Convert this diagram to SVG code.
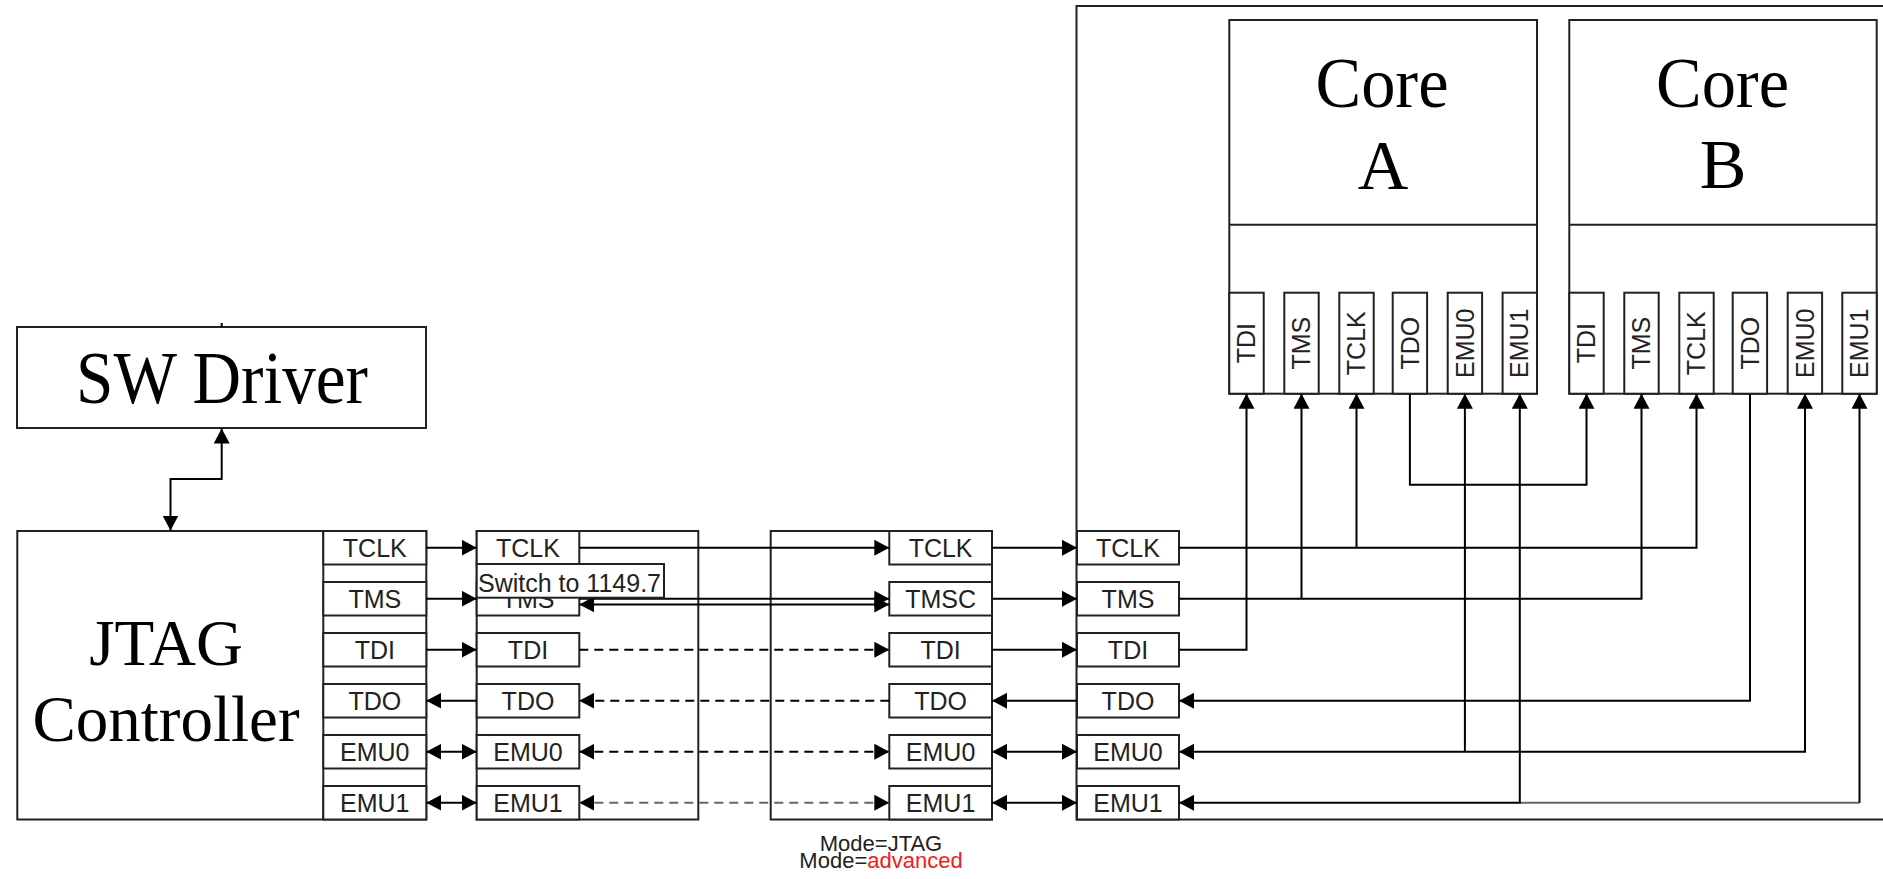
<svg xmlns="http://www.w3.org/2000/svg" width="1883" height="879" viewBox="0 0 1883 879">
<style>
.box{fill:#fff;stroke:#222;stroke-width:2}
.ln{fill:none;stroke:#222;stroke-width:2}
.pt{font-family:"Liberation Sans",Arial,sans-serif;font-size:25px;fill:#222;text-anchor:middle}
.sf{font-family:"Liberation Serif","Times New Roman",serif;fill:#000}
.w{fill:none;stroke:#000;stroke-width:2}
.d{stroke-dasharray:9 6}
.g{stroke:#666}
.md{font-family:"Liberation Sans",Arial,sans-serif;font-size:22px;fill:#222;text-anchor:middle}
</style>
<defs>
<marker id="ah" markerUnits="userSpaceOnUse" markerWidth="16" markerHeight="16" refX="15" refY="8" orient="auto-start-reverse"><path d="M0,0 L15,8 L0,16 z" fill="#000"/></marker>
</defs>
<rect width="1883" height="879" fill="#fff"/>

<g id="sw-driver">
<rect class="box" x="17" y="327" width="409" height="101"/>
<text class="sf" x="76" y="403" font-size="73" textLength="292" lengthAdjust="spacingAndGlyphs">SW Driver</text>
</g>

<g id="jtag-controller">
<rect class="box" x="17.3" y="531" width="409" height="288.5"/>
<line class="ln" x1="323.3" y1="531" x2="323.3" y2="819.5"/>
<text class="sf" x="166" y="665" font-size="65" text-anchor="middle">JTAG</text>
<text class="sf" x="166" y="741" font-size="65" text-anchor="middle">Controller</text>
<rect class="box" x="323.3" y="531" width="103" height="33.5"/><text class="pt" x="374.8" y="557">TCLK</text>
<rect class="box" x="323.3" y="582" width="103" height="33.5"/><text class="pt" x="374.8" y="608">TMS</text>
<rect class="box" x="323.3" y="633" width="103" height="33.5"/><text class="pt" x="374.8" y="659">TDI</text>
<rect class="box" x="323.3" y="684" width="103" height="33.5"/><text class="pt" x="374.8" y="710">TDO</text>
<rect class="box" x="323.3" y="735" width="103" height="33.5"/><text class="pt" x="374.8" y="761">EMU0</text>
<rect class="box" x="323.3" y="786" width="103" height="33.5"/><text class="pt" x="374.8" y="812">EMU1</text>
</g>

<g id="adapter-1">
<rect class="box" x="476.7" y="531" width="221.6" height="288.5"/>
<rect class="box" x="476.7" y="531" width="102.6" height="33.5"/><text class="pt" x="528" y="557">TCLK</text>
<rect class="box" x="476.7" y="582" width="102.6" height="33.5"/><text class="pt" x="528" y="608">TMS</text>
<rect class="box" x="476.7" y="633" width="102.6" height="33.5"/><text class="pt" x="528" y="659">TDI</text>
<rect class="box" x="476.7" y="684" width="102.6" height="33.5"/><text class="pt" x="528" y="710">TDO</text>
<rect class="box" x="476.7" y="735" width="102.6" height="33.5"/><text class="pt" x="528" y="761">EMU0</text>
<rect class="box" x="476.7" y="786" width="102.6" height="33.5"/><text class="pt" x="528" y="812">EMU1</text>
</g>

<g id="adapter-2">
<rect class="box" x="770.7" y="531" width="221.3" height="288.5"/>
<rect class="box" x="889.3" y="531" width="102.7" height="33.5"/><text class="pt" x="940.6" y="557">TCLK</text>
<rect class="box" x="889.3" y="582" width="102.7" height="33.5"/><text class="pt" x="940.6" y="608">TMSC</text>
<rect class="box" x="889.3" y="633" width="102.7" height="33.5"/><text class="pt" x="940.6" y="659">TDI</text>
<rect class="box" x="889.3" y="684" width="102.7" height="33.5"/><text class="pt" x="940.6" y="710">TDO</text>
<rect class="box" x="889.3" y="735" width="102.7" height="33.5"/><text class="pt" x="940.6" y="761">EMU0</text>
<rect class="box" x="889.3" y="786" width="102.7" height="33.5"/><text class="pt" x="940.6" y="812">EMU1</text>
<text class="md" x="881" y="850.5">Mode=JTAG</text>
<text class="md" x="881" y="868.3">Mode=<tspan fill="#ee1c1c">advanced</tspan></text>
</g>

<g id="chip">
<rect class="box" x="1076.5" y="6" width="820" height="813.5"/>
<rect class="box" x="1077" y="531" width="102" height="33.5"/><text class="pt" x="1128" y="557">TCLK</text>
<rect class="box" x="1077" y="582" width="102" height="33.5"/><text class="pt" x="1128" y="608">TMS</text>
<rect class="box" x="1077" y="633" width="102" height="33.5"/><text class="pt" x="1128" y="659">TDI</text>
<rect class="box" x="1077" y="684" width="102" height="33.5"/><text class="pt" x="1128" y="710">TDO</text>
<rect class="box" x="1077" y="735" width="102" height="33.5"/><text class="pt" x="1128" y="761">EMU0</text>
<rect class="box" x="1077" y="786" width="102" height="33.5"/><text class="pt" x="1128" y="812">EMU1</text>
</g>

<g id="core-a">
<rect class="box" x="1229.3" y="20" width="307.7" height="373.7"/>
<line class="ln" x1="1229.3" y1="224.7" x2="1537" y2="224.7"/>
<text class="sf" x="1315.5" y="107.3" font-size="71" textLength="133" lengthAdjust="spacingAndGlyphs">Core</text>
<text class="sf" x="1383" y="189.3" font-size="70" text-anchor="middle">A</text>
<rect class="box" x="1229.3" y="292.7" width="34.4" height="101"/><text class="pt" transform="translate(1255.1,343.2) rotate(-90)">TDI</text>
<rect class="box" x="1284.3" y="292.7" width="34.4" height="101"/><text class="pt" transform="translate(1310.1,343.2) rotate(-90)">TMS</text>
<rect class="box" x="1339.3" y="292.7" width="34.4" height="101"/><text class="pt" transform="translate(1365.1,343.2) rotate(-90)">TCLK</text>
<rect class="box" x="1392.7" y="292.7" width="34.4" height="101"/><text class="pt" transform="translate(1418.5,343.2) rotate(-90)">TDO</text>
<rect class="box" x="1447.7" y="292.7" width="34.4" height="101"/><text class="pt" transform="translate(1473.5,343.2) rotate(-90)">EMU0</text>
<rect class="box" x="1502.6" y="292.7" width="34.4" height="101"/><text class="pt" transform="translate(1528.4,343.2) rotate(-90)">EMU1</text>
</g>

<g id="core-b">
<rect class="box" x="1569.3" y="20" width="307.4" height="373.7"/>
<line class="ln" x1="1569.3" y1="224.7" x2="1876.7" y2="224.7"/>
<text class="sf" x="1656" y="107.3" font-size="71" textLength="133" lengthAdjust="spacingAndGlyphs">Core</text>
<text class="sf" x="1723" y="188.3" font-size="70" text-anchor="middle">B</text>
<rect class="box" x="1569.3" y="292.7" width="34.4" height="101"/><text class="pt" transform="translate(1595.1,343.2) rotate(-90)">TDI</text>
<rect class="box" x="1624.3" y="292.7" width="34.4" height="101"/><text class="pt" transform="translate(1650.1,343.2) rotate(-90)">TMS</text>
<rect class="box" x="1679.3" y="292.7" width="34.4" height="101"/><text class="pt" transform="translate(1705.1,343.2) rotate(-90)">TCLK</text>
<rect class="box" x="1732.7" y="292.7" width="34.4" height="101"/><text class="pt" transform="translate(1758.5,343.2) rotate(-90)">TDO</text>
<rect class="box" x="1787.7" y="292.7" width="34.4" height="101"/><text class="pt" transform="translate(1813.5,343.2) rotate(-90)">EMU0</text>
<rect class="box" x="1842.3" y="292.7" width="34.4" height="101"/><text class="pt" transform="translate(1868.1,343.2) rotate(-90)">EMU1</text>
</g>

<g id="connectors">
<line class="w" x1="221.7" y1="323" x2="221.7" y2="327" stroke-width="1"/>
<path class="w" d="M221.7,428.5 V479 H170.5 V530.5" marker-start="url(#ah)" marker-end="url(#ah)"/>

<path class="w" d="M426.3,547.75 H476.7" marker-end="url(#ah)"/>
<path class="w" d="M426.3,598.75 H476.7" marker-end="url(#ah)"/>
<path class="w" d="M426.3,649.75 H476.7" marker-end="url(#ah)"/>
<path class="w" d="M476.7,700.75 H426.3" marker-end="url(#ah)"/>
<path class="w" d="M426.3,751.75 H476.7" marker-start="url(#ah)" marker-end="url(#ah)"/>
<path class="w" d="M426.3,802.75 H476.7" marker-start="url(#ah)" marker-end="url(#ah)"/>

<path class="w" d="M579.3,547.75 H889.3" marker-end="url(#ah)"/>
<path class="w" d="M579.3,598.75 H889.3" marker-end="url(#ah)"/>
<path class="w" d="M579.3,604.5 H889.3" marker-start="url(#ah)" marker-end="url(#ah)"/>
<path class="w d" d="M579.3,649.75 H889.3" marker-end="url(#ah)"/>
<path class="w d" d="M889.3,700.75 H579.3" marker-end="url(#ah)"/>
<path class="w d" d="M579.3,751.75 H889.3" marker-start="url(#ah)" marker-end="url(#ah)"/>
<path class="w d g" d="M579.3,802.75 H889.3" marker-start="url(#ah)" marker-end="url(#ah)"/>

<path class="w" d="M992,547.75 H1077" marker-end="url(#ah)"/>
<path class="w" d="M992,598.75 H1077" marker-end="url(#ah)"/>
<path class="w" d="M992,649.75 H1077" marker-end="url(#ah)"/>
<path class="w" d="M1077,700.75 H992" marker-end="url(#ah)"/>
<path class="w" d="M992,751.75 H1077" marker-start="url(#ah)" marker-end="url(#ah)"/>
<path class="w" d="M992,802.75 H1077" marker-start="url(#ah)" marker-end="url(#ah)"/>

<path class="w" d="M1179,547.75 H1696.5 V393.7" marker-end="url(#ah)"/>
<path class="w" d="M1356.5,547.75 V393.7" marker-end="url(#ah)"/>
<path class="w" d="M1179,598.75 H1641.5 V393.7" marker-end="url(#ah)"/>
<path class="w" d="M1301.5,598.75 V393.7" marker-end="url(#ah)"/>
<path class="w" d="M1179,649.75 H1246.5 V393.7" marker-end="url(#ah)"/>
<path class="w" d="M1409.9,393.7 V484.7 H1586.5 V393.7" marker-end="url(#ah)"/>
<path class="w" d="M1750,393.7 V700.75 H1179" marker-end="url(#ah)"/>
<path class="w" d="M1805,393.7 V751.75 H1179" marker-start="url(#ah)" marker-end="url(#ah)"/>
<path class="w" d="M1464.9,751.75 V393.7" marker-end="url(#ah)"/>
<path class="w g" d="M1859.5,802.75 H1519.8"/>
<path class="w" stroke="#333" d="M1859.5,802.75 V393.7" marker-end="url(#ah)"/>
<path class="w" d="M1519.8,393.7 V802.75 H1179" marker-start="url(#ah)" marker-end="url(#ah)"/>
</g>

<g id="switch-note">
<rect x="476.7" y="564" width="187.3" height="33.7" fill="#fff" stroke="#222" stroke-width="2"/>
<text class="pt" x="478" y="591.7" style="text-anchor:start">Switch to 1149.7</text>
</g>
</svg>
